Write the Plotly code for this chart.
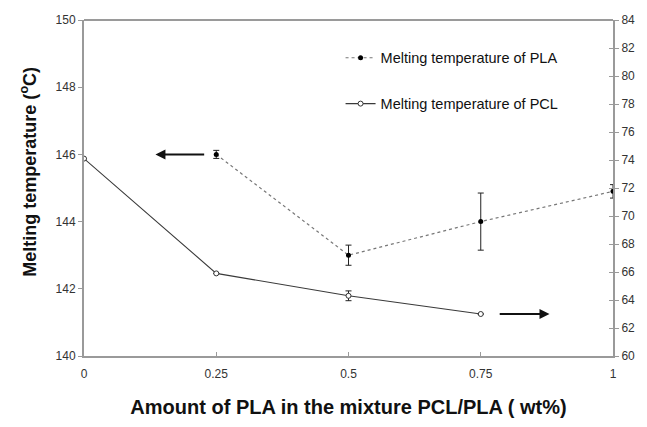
import plotly.graph_objects as go

# Melting temperatures of the two phases vs PLA content in PCL/PLA blends
pla_x = [0.25, 0.5, 0.75, 1.0]
pla_tm = [146.0, 143.0, 144.0, 144.9]
pla_err = [0.12, 0.3, 0.85, 0.2]

pcl_x = [0.0, 0.25, 0.5, 0.75]
pcl_tm = [74.1, 65.9, 64.3, 63.0]
pcl_err = [0.0, 0.0, 0.35, 0.0]

x_ticks = [0, 0.25, 0.5, 0.75, 1]
x_ticktext = ["0", "0.25", "0.5", "0.75", "1"]

FONT = "Liberation Sans, Arial, sans-serif"
AXIS_GRAY = "#9a9a9a"
TEXT = "#333333"

fig = go.Figure()

fig.add_trace(go.Scatter(
    x=pla_x, y=pla_tm, yaxis="y", mode="lines+markers",
    name="Melting temperature of PLA",
    line=dict(color="#777777", width=1.2, dash="dot"),
    marker=dict(symbol="circle", size=5, color="black"),
    error_y=dict(type="data", array=pla_err, color="#222222", thickness=1, width=3),
    legendgroup="pla",
))

fig.add_trace(go.Scatter(
    x=pcl_x, y=pcl_tm, yaxis="y2", mode="lines+markers",
    name="Melting temperature of PCL",
    line=dict(color="#3a3a3a", width=1.1),
    marker=dict(symbol="circle", size=5, color="white",
                line=dict(color="#333333", width=1)),
    error_y=dict(type="data", array=pcl_err, color="#222222", thickness=1, width=3),
    legendgroup="pcl",
))

# arrows pointing each curve to its own axis
fig.add_annotation(x=0.135, y=146.0, ax=0.23, ay=146.0, xref="x", yref="y",
                   axref="x", ayref="y", showarrow=True, arrowhead=2,
                   arrowsize=1, arrowwidth=2, arrowcolor="#111111", text="")
fig.add_annotation(x=0.88, y=63.0, ax=0.783, ay=63.0, xref="x", yref="y2",
                   axref="x", ayref="y2", showarrow=True, arrowhead=2,
                   arrowsize=1, arrowwidth=2, arrowcolor="#111111", text="")

# left axis title, placed slightly above the axis centre
fig.add_annotation(text="<b>Melting temperature (<sup>o</sup>C)</b>",
                   xref="paper", yref="paper", x=-0.105, y=0.55,
                   xanchor="center", yanchor="middle", textangle=-90,
                   showarrow=False, font=dict(size=18, color="#111111"))

fig.update_layout(
    width=647, height=427,
    margin=dict(l=84, r=26, t=20, b=71),
    paper_bgcolor="white", plot_bgcolor="white",
    font=dict(family=FONT, size=12, color=TEXT),
    showlegend=True,
    legend=dict(x=0.485, y=0.935, xanchor="left", yanchor="top",
                bgcolor="rgba(0,0,0,0)", font=dict(size=14.5, color="#111111"),
                tracegroupgap=24, traceorder="grouped", itemwidth=30),
    xaxis=dict(range=[0, 1], tickvals=x_ticks, ticktext=x_ticktext,
               showgrid=False, zeroline=False, showline=True,
               linecolor=AXIS_GRAY, linewidth=2, mirror=False,
               ticks="inside", ticklen=4, tickcolor=AXIS_GRAY, tickwidth=1,
               tickfont=dict(size=12, color=TEXT), ticklabelstandoff=6,
               title=dict(text="<b>Amount of PLA in the mixture PCL/PLA ( wt%)</b>",
                          font=dict(size=20, color="#111111"), standoff=20)),
    yaxis=dict(range=[140, 150], dtick=2, showgrid=False, zeroline=False,
               showline=True, linecolor=AXIS_GRAY, linewidth=2,
               ticks="outside", ticklen=4, tickcolor=AXIS_GRAY, tickwidth=1,
               tickfont=dict(size=12, color=TEXT)),
    yaxis2=dict(range=[60, 84], dtick=2, overlaying="y", side="right",
                showgrid=False, zeroline=False, showline=True,
                linecolor=AXIS_GRAY, linewidth=2,
                ticks="outside", ticklen=4, tickcolor=AXIS_GRAY, tickwidth=1,
                tickfont=dict(size=12, color=TEXT)),
    yaxis3=dict(range=[60, 84], dtick=2, overlaying="y", side="right",
                showgrid=False, zeroline=False, showline=False,
                ticks="inside", ticklen=4, tickcolor=AXIS_GRAY, tickwidth=1,
                showticklabels=False),
)

# top border of the frame
fig.add_shape(type="line", xref="paper", yref="paper", x0=0, x1=1, y0=1, y1=1,
              line=dict(color=AXIS_GRAY, width=2))

# inner half of the right-axis cross ticks
fig.add_trace(go.Scatter(x=[None], y=[None], yaxis="y3", showlegend=False,
                         hoverinfo="skip"))

fig.write_html("out.html")
